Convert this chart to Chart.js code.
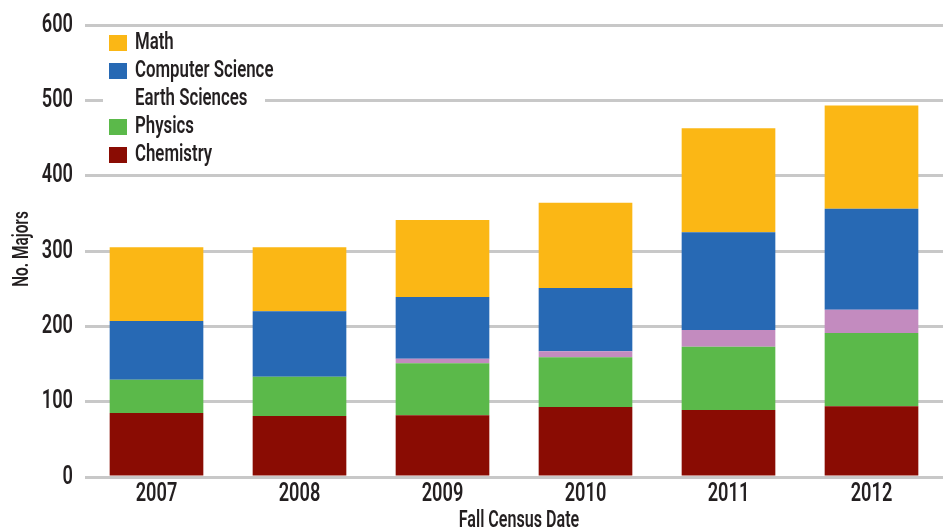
<!DOCTYPE html>
<html>
<head>
<meta charset="utf-8">
<script src="https://cdn.jsdelivr.net/npm/chart.js@4/dist/chart.umd.min.js"></script>
<style>
  html, body { margin: 0; padding: 0; background: #fff; }
  #wrap { position: relative; width: 947px; height: 530px; }
</style>
</head>
<body>
<div id="wrap"><canvas id="myChart" width="947" height="530"></canvas></div>
<script>
// data
var years = ['2007', '2008', '2009', '2010', '2011', '2012'];
var chemistry = [85, 81, 82, 93, 89, 94];
var physics = [44, 52, 69, 66, 84, 97];
var earthSciences = [0, 0, 6, 8, 22, 31];
var computerScience = [78, 87, 82, 84, 130, 134];
var math = [98, 85, 102, 113, 138, 137];
var yTicks = [0, 100, 200, 300, 400, 500, 600];

var FONT = 'Roboto, "Liberation Sans", sans-serif';
var INK = '#231f20';
var SQUEEZE = 0.7; // the original type is a condensed face

// draw a horizontally squeezed text at x,y
function narrowText(ctx, txt, x, y, size, align, rot) {
    ctx.save();
    ctx.translate(x, y);
    if (rot) ctx.rotate(rot);
    ctx.scale(SQUEEZE, 1);
    ctx.font = '600 ' + size + 'px ' + FONT;
    ctx.textAlign = align;
    ctx.textBaseline = 'middle';
    ctx.fillStyle = INK;
    ctx.fillText(txt, 0, 0);
    ctx.restore();
}

// tick labels, titles and an in-plot legend in the condensed look
var condensedText = {
    id: 'condensedText',
    afterDraw: function(chart) {
        var ctx = chart.ctx;
        var xs = chart.scales.x, ys = chart.scales.y;

        ys.ticks.forEach(function(t) {
            narrowText(ctx, String(t.value), 73, ys.getPixelForValue(t.value), 26, 'right');
        });
        xs.ticks.forEach(function(t, i) {
            narrowText(ctx, chart.data.labels[i], xs.getPixelForTick(i), 494, 26, 'center');
        });
        narrowText(ctx, 'Fall Census Date', 519, 521, 23, 'center');
        narrowText(ctx, 'No. Majors', 22, 249, 22, 'center', -Math.PI / 2);

        // legend, top item is the top of the stack
        var sets = chart.data.datasets.slice().reverse();
        ctx.save();
        ctx.fillStyle = '#fff';
        ctx.fillRect(103, 31, 162, 136);
        ctx.restore();
        sets.forEach(function(ds, i) {
            var y = 35 + i * 28;
            if (ds.legendSwatch !== false) {
                ctx.fillStyle = ds.backgroundColor;
                ctx.fillRect(109, y, 18, 16);
            }
            narrowText(ctx, ds.label, 135, y + 8, 24, 'left');
        });
    }
};

var ctx = document.getElementById('myChart').getContext('2d');
new Chart(ctx, {
    type: 'bar',
    data: {
        labels: years,
        datasets: [
            { label: 'Chemistry', data: chemistry, backgroundColor: '#8a0c03' },
            { label: 'Physics', data: physics, backgroundColor: '#5bb94a' },
            { label: 'Earth Sciences', data: earthSciences, backgroundColor: '#c38bbf', legendSwatch: false },
            { label: 'Computer Science', data: computerScience, backgroundColor: '#2769b4' },
            { label: 'Math', data: math, backgroundColor: '#fbb715' }
        ]
    },
    options: {
        responsive: false,
        animation: false,
        layout: { padding: { top: 25, right: 4, left: 0, bottom: 0 } },
        datasets: { bar: { categoryPercentage: 1, barPercentage: 0.655 } },
        scales: {
            x: {
                stacked: true,
                grid: { display: false },
                border: { display: false },
                ticks: { display: false },
                afterFit: function(s) { s.height = 53; }
            },
            y: {
                stacked: true,
                min: 0,
                max: 600,
                afterBuildTicks: function(s) { s.ticks = yTicks.map(function(v) { return { value: v }; }); },
                grid: { color: '#c8c8c8', lineWidth: 3, drawTicks: false },
                border: { display: false },
                ticks: { display: false },
                afterFit: function(s) { s.width = 85; }
            }
        },
        plugins: {
            legend: { display: false },
            tooltip: { enabled: false }
        }
    },
    plugins: [condensedText]
});
</script>
</body>
</html>
